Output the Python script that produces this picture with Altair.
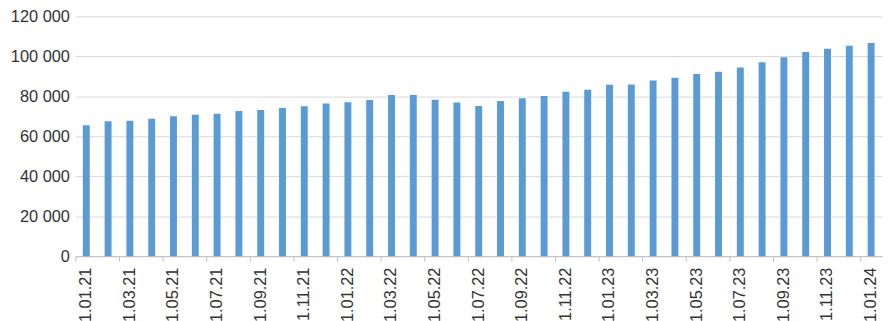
import altair as alt
import pandas as pd

months = [
    "1.01.21", "1.02.21", "1.03.21", "1.04.21", "1.05.21", "1.06.21", "1.07.21",
    "1.08.21", "1.09.21", "1.10.21", "1.11.21", "1.12.21",
    "1.01.22", "1.02.22", "1.03.22", "1.04.22", "1.05.22", "1.06.22", "1.07.22",
    "1.08.22", "1.09.22", "1.10.22", "1.11.22", "1.12.22",
    "1.01.23", "1.02.23", "1.03.23", "1.04.23", "1.05.23", "1.06.23", "1.07.23",
    "1.08.23", "1.09.23", "1.10.23", "1.11.23", "1.12.23",
    "1.01.24",
]
values = [
    65500, 67500, 67800, 68800, 70000, 70700, 71300, 72600, 73200, 74200, 75000, 76400,
    77000, 78200, 80600, 80700, 78300, 76900, 75200, 77700, 79000, 80100, 82300, 83300,
    85800, 85900, 87900, 89300, 91200, 92300, 94400, 97000, 99500, 102200, 103800, 105300,
    106700,
]
shown_labels = months[::2]
y_ticks = [0, 20000, 40000, 60000, 80000, 100000, 120000]

df = pd.DataFrame({"month": months, "value": values})

chart = (
    alt.Chart(df)
    .mark_bar(size=7, color="#5b9bd5")
    .encode(
        x=alt.X(
            "month:N",
            sort=months,
            title=None,
            scale=alt.Scale(paddingInner=0, paddingOuter=0),
            axis=alt.Axis(
                values=shown_labels,
                labelAngle=-90,
                bandPosition=0,
                labelPadding=6,
                tickSize=5,
                tickColor="#bfbfbf",
                domainColor="#bfbfbf",
                labelFont="Liberation Sans",
                labelFontSize=16.5,
                labelColor="#333333",
                grid=False,
            ),
        ),
        y=alt.Y(
            "value:Q",
            title=None,
            scale=alt.Scale(domain=[0, 120000], nice=False),
            axis=alt.Axis(
                values=y_ticks,
                labelExpr="replace(format(datum.value, ','), regexp(',', 'g'), ' ')",
                domain=False,
                ticks=False,
                labelPadding=6,
                labelFont="Liberation Sans",
                labelFontSize=16.5,
                labelColor="#333333",
                gridColor="#d9d9d9",
                gridWidth=1,
            ),
        ),
    )
    .properties(
        width=814,
        height=242,
        autosize=alt.AutoSizeParams(type="none"),
        padding={"left": 68, "top": 7, "right": 2, "bottom": 64},
    )
    .configure_view(stroke=None)
)

chart.save("out.html", embed_options={"renderer": "svg", "actions": False})
